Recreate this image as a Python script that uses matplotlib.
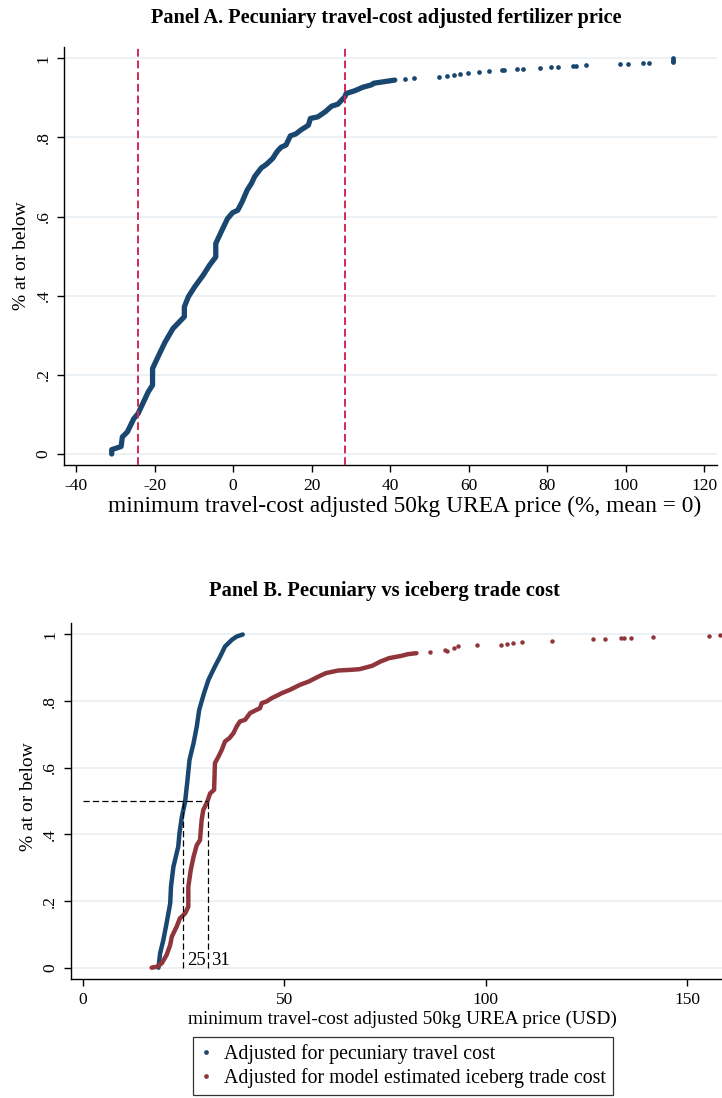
import matplotlib
matplotlib.use("Agg")
import matplotlib.pyplot as plt
from matplotlib.lines import Line2D

plt.rcParams['font.family'] = ['Liberation Serif', 'DejaVu Serif']
plt.rcParams['axes.unicode_minus'] = False

# ---------------- Data ----------------
# Panel A: empirical CDF of travel-cost adjusted price (%, mean = 0)
a_body_x = [-30.9, -30.9, -28.5, -28.2, -26.9, -25.3, -24.2, -23.2, -21.6, -20.5, -20.5,
            -18.9, -17.3, -15.3, -12.4, -12.4, -11.4, -9.8, -7.6, -6.0, -4.4, -4.4,
            -2.8, -1.4, -0.1, 1.2, 2.3, 3.6, 4.7, 5.5, 7.2, 8.5, 10.1, 11.2, 12.2,
            13.5, 14.6, 16.0, 17.3, 19.2, 19.7, 21.6, 23.5, 25.1, 26.7, 28.5, 28.8,
            31.0, 33.1, 35.3, 35.8, 38.5, 41.2]
a_body_y = [0.0, 0.011, 0.019, 0.043, 0.056, 0.089, 0.102, 0.123, 0.157, 0.174, 0.216,
            0.250, 0.283, 0.317, 0.347, 0.372, 0.397, 0.422, 0.452, 0.477, 0.498, 0.532,
            0.566, 0.595, 0.610, 0.616, 0.637, 0.667, 0.684, 0.701, 0.723, 0.732, 0.747,
            0.764, 0.775, 0.781, 0.804, 0.809, 0.819, 0.831, 0.848, 0.852, 0.865, 0.879,
            0.884, 0.903, 0.911, 0.918, 0.927, 0.933, 0.937, 0.941, 0.945]
a_tail_x = [43.9, 46.0, 52.4, 54.6, 56.2, 57.8, 59.9, 62.6, 65.3, 68.5, 69.0, 72.3, 73.9,
            78.2, 80.9, 82.7, 86.5, 87.3, 90.0, 98.6, 100.5, 104.4, 106.0,
            112.0, 112.0, 112.0, 112.0]
a_tail_y = [0.947, 0.951, 0.954, 0.956, 0.958, 0.960, 0.964, 0.966, 0.967, 0.970, 0.971,
            0.972, 0.973, 0.976, 0.977, 0.979, 0.981, 0.981, 0.983, 0.985, 0.986, 0.987,
            0.987, 0.991, 0.994, 0.997, 1.0]
a_cut_low = -24.3
a_cut_high = 28.5

# Panel B: pecuniary (blue) vs iceberg (red) trade cost, USD
b_blue_x = [18.8, 19.2, 20.0, 20.8, 21.7, 21.9, 22.5, 23.7, 24.0, 24.6, 25.4, 26.0, 26.5,
            27.5, 28.3, 28.9, 30.1, 31.2, 32.8, 34.1, 35.3, 37.0, 38.2, 39.7]
b_blue_y = [0.0, 0.043, 0.083, 0.133, 0.193, 0.243, 0.303, 0.363, 0.403, 0.453, 0.498,
            0.564, 0.624, 0.674, 0.724, 0.774, 0.824, 0.864, 0.904, 0.934, 0.964, 0.984,
            0.994, 1.0]
b_red_x = [17.1, 18.4, 19.6, 20.8, 21.7, 22.1, 23.3, 24.1, 25.4, 26.2, 26.2, 26.8, 27.5,
           28.3, 29.1, 29.5, 29.9, 30.9, 31.6, 32.6, 32.8, 33.7, 34.5, 35.3, 36.4, 37.4,
           38.2, 39.0, 40.3, 41.5, 42.8, 44.0, 44.4, 45.6, 46.9, 48.1, 49.4, 51.4, 53.9,
           56.1, 58.2, 60.3, 63.4, 66.6, 68.7, 71.8, 73.9, 76.0, 79.1, 80.7, 82.8]
b_red_y = [0.0, 0.003, 0.013, 0.038, 0.068, 0.093, 0.123, 0.148, 0.163, 0.183, 0.243,
           0.293, 0.333, 0.368, 0.383, 0.443, 0.473, 0.498, 0.523, 0.534, 0.614, 0.634,
           0.654, 0.679, 0.689, 0.704, 0.724, 0.739, 0.744, 0.764, 0.772, 0.779, 0.794,
           0.799, 0.809, 0.816, 0.824, 0.834, 0.849, 0.859, 0.872, 0.884, 0.892, 0.894,
           0.896, 0.906, 0.919, 0.929, 0.936, 0.941, 0.944]
b_red_tail_x = [86.2, 89.8, 90.4, 92.2, 93.2, 97.7, 103.7, 105.3, 106.8, 108.9, 116.4,
                126.7, 129.5, 133.5, 134.2, 136.1, 141.6, 155.4, 158.0]
b_red_tail_y = [0.947, 0.952, 0.950, 0.959, 0.964, 0.967, 0.969, 0.971, 0.974, 0.977,
                0.981, 0.985, 0.986, 0.988, 0.988, 0.989, 0.992, 0.994, 0.998]
b_median_blue = 25
b_median_red = 31

y_ticks = [0, 0.2, 0.4, 0.6, 0.8, 1.0]
y_ticklabels = ["0", ".2", ".4", ".6", ".8", "1"]
a_xticks = [-40, -20, 0, 20, 40, 60, 80, 100, 120]
b_xticks = [0, 50, 100, 150]

# ---------------- Style ----------------
BLUE = "#1a476f"
RED = "#90353b"
CUT = "#d42a55"
GRID = "#e8eff2"

W, H = 722, 1098
fig = plt.figure(figsize=(W / 100, H / 100), dpi=100)


def fx(px):
    return px / W


def fy(py):
    return 1 - py / H


def style_axes(ax):
    for s in ("top", "right"):
        ax.spines[s].set_visible(False)
    for s in ("left", "bottom"):
        ax.spines[s].set_linewidth(1.0)
        ax.spines[s].set_color("black")
    ax.set_yticks(y_ticks)
    ax.set_yticklabels(y_ticklabels, rotation=90, va="center")
    ax.tick_params(axis="both", direction="out", length=5, width=1, labelsize=12.5,
                   pad=4)
    for y in y_ticks:
        ax.axhline(y, color=GRID, lw=1.2, zorder=0)


# ---- Panel A ----
axA = fig.add_axes([fx(64.3), fy(465), (716.7 - 64.3) / W, (465 - 47) / H])
style_axes(axA)
axA.set_xlim(-42.98, 123.2)
axA.set_ylim(-0.0278, 1.0286)
axA.set_xticks(a_xticks)
axA.plot(a_body_x, a_body_y, color=BLUE, lw=3.8, solid_joinstyle="round",
         solid_capstyle="round", zorder=3)
axA.plot(a_tail_x, a_tail_y, "o", color=BLUE, ms=3.4, mew=0, zorder=3)
for c in (a_cut_low, a_cut_high):
    axA.axvline(c, color=CUT, lw=1.4, ls=(0, (4, 2)), zorder=4)
axA.set_xlabel("minimum travel-cost adjusted 50kg UREA price (%, mean = 0)", fontsize=16.8)
axA.xaxis.set_label_coords(0.521, -0.073)
axA.set_ylabel("% at or below", fontsize=14)
axA.yaxis.set_label_coords(-0.052, 0.502)
fig.text(fx(386), fy(18), "Panel A. Pecuniary travel-cost adjusted fertilizer price",
         ha="center", va="center", fontsize=14.6, fontweight="bold")

# ---- Panel B ----
axB = fig.add_axes([fx(70.7), fy(979), (722 - 70.7) / W, (979 - 623.3) / H])
style_axes(axB)
axB.set_xlim(-2.98, 158.6)
axB.set_ylim(-0.0339, 1.0336)
axB.set_xticks(b_xticks)
axB.plot(b_blue_x, b_blue_y, color=BLUE, lw=3.2, solid_joinstyle="round",
         solid_capstyle="round", zorder=3)
axB.plot(b_red_x, b_red_y, color=RED, lw=3.2, solid_joinstyle="round",
         solid_capstyle="round", zorder=3)
axB.plot(b_red_tail_x, b_red_tail_y, "o", color=RED, ms=3.2, mew=0, zorder=3,
         clip_on=False)
# median guides
axB.plot([0, b_median_red], [0.5, 0.5], color="black", lw=0.9, ls=(0, (5, 2.5)), zorder=4)
for m in (b_median_blue, b_median_red):
    axB.plot([m, m], [0, 0.5], color="black", lw=0.9, ls=(0, (5, 2.5)), zorder=4)
    axB.text(m + 0.8, -0.004, str(m), fontsize=13.5, ha="left", va="bottom", zorder=5)
axB.set_xlabel("minimum travel-cost adjusted 50kg UREA price (USD)", fontsize=13.9)
axB.xaxis.set_label_coords(0.509, -0.088)
axB.set_ylabel("% at or below", fontsize=14)
axB.yaxis.set_label_coords(-0.051, 0.512)
fig.text(fx(384), fy(591), "Panel B. Pecuniary vs iceberg trade cost",
         ha="center", va="center", fontsize=14.8, fontweight="bold")

# ---- Legend ----
handles = [
    Line2D([], [], ls="none", marker="o", color=BLUE, ms=3.4, mew=0,
           label="Adjusted for pecuniary travel cost"),
    Line2D([], [], ls="none", marker="o", color=RED, ms=3.4, mew=0,
           label="Adjusted for model estimated iceberg trade cost"),
]
leg = fig.legend(handles=handles, loc="upper center", bbox_to_anchor=(fx(403), fy(1037)),
                 frameon=True, fancybox=False, fontsize=14.3, handlelength=0.6,
                 handletextpad=0.6, borderpad=0.35, labelspacing=0.2,
                 borderaxespad=0)
leg.get_frame().set_edgecolor("black")
leg.get_frame().set_linewidth(0.9)

fig.savefig("out.png", dpi=100)
